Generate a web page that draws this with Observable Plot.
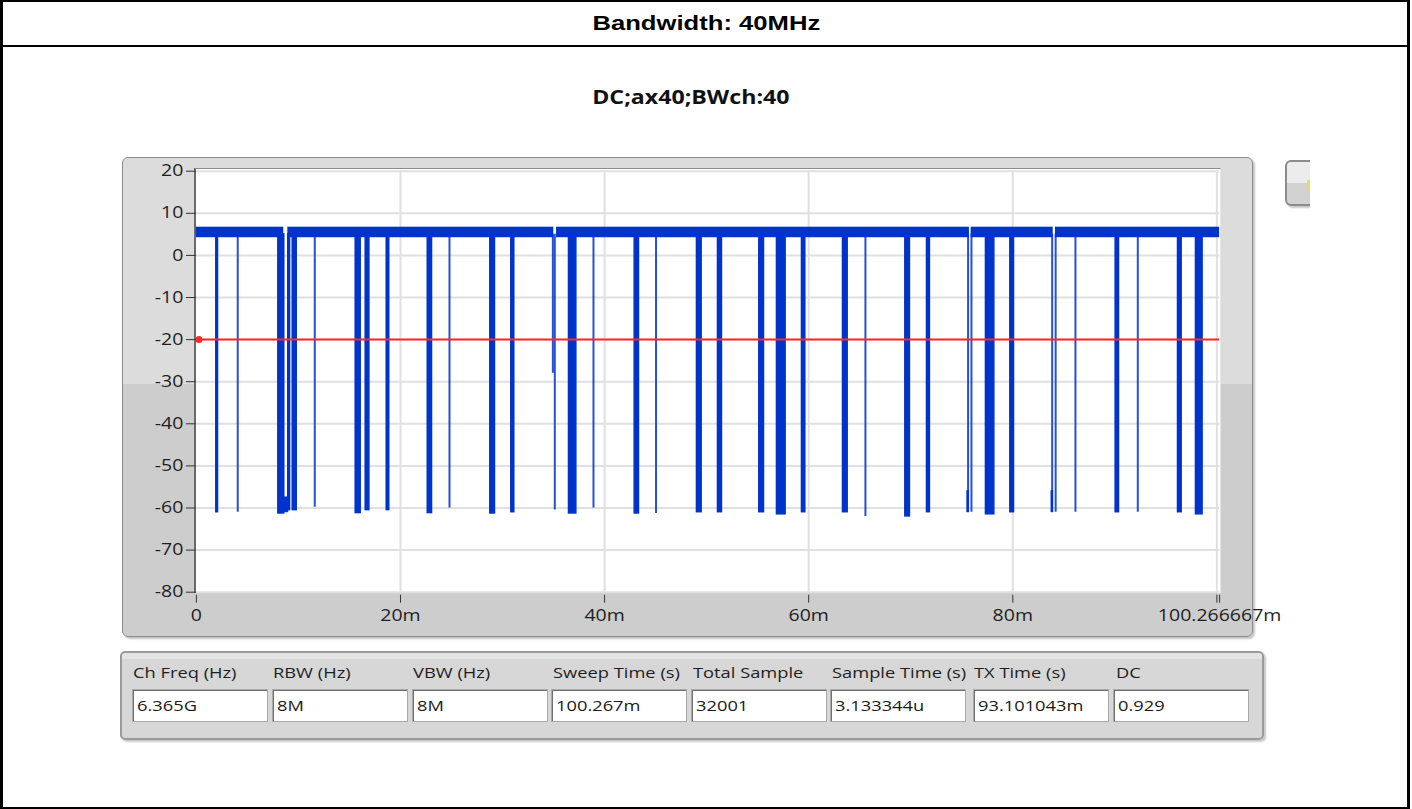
<!DOCTYPE html>
<html><head><meta charset="utf-8">
<script src="https://cdn.jsdelivr.net/npm/d3@7"></script>
<script src="https://cdn.jsdelivr.net/npm/@observablehq/plot@0.6"></script>
<style>
body{margin:0;background:#fff;}
#page{position:relative;width:1412px;height:809px;overflow:hidden;font-family:"Open Sans",sans-serif;background:#fff;}
.abs{position:absolute;}
.sx{display:inline-block;transform:scaleX(1.22);transform-origin:left center;white-space:nowrap;}
.sxc{display:inline-block;transform:scaleX(1.22);transform-origin:center center;white-space:nowrap;}
.lbl{position:absolute;top:660px;font-size:15px;color:#1e1e1e;line-height:24px;}
.box{position:absolute;top:689px;height:33px;width:136px;box-sizing:border-box;background:#fff;
  border:1px solid #a9a9a9;box-shadow:inset 1px 1px 0 #707070;font-size:15px;color:#1a1a1a;line-height:31px;padding-left:4px;}
</style></head><body>
<div id="page">
  <div class="abs" style="left:0;top:0;width:1410px;height:809px;box-sizing:border-box;border-left:3px solid #000;border-right:3px solid #000;border-top:2px solid #000;border-bottom:2px solid #000;"></div>
  <div class="abs" style="left:0;top:45px;width:1410px;height:2px;background:#000;"></div>
  <div class="abs" id="title" style="left:0;top:0;width:1412px;height:45px;line-height:45px;text-align:center;font-family:'Liberation Sans',Arial,sans-serif;font-weight:bold;font-size:21px;color:#000;"></div>
  <div class="abs" id="subtitle" style="left:0;top:85px;width:1382px;height:24px;line-height:24px;text-align:center;font-family:'Open Sans',sans-serif;font-weight:700;font-size:19px;color:#111;"></div>

  <!-- graph panel -->
  <div class="abs" style="left:122px;top:157px;width:1131px;height:480px;box-sizing:border-box;border:1.5px solid #8a8a8a;border-radius:6px;background:linear-gradient(#dcdcdc 0,#dcdcdc 226px,#cdcdcd 226px,#cdcdcd 100%);box-shadow:2px 2px 2px #c4c4c4;"></div>
  <div class="abs" style="left:194px;top:168px;width:1027px;height:425px;box-sizing:border-box;background:#fff;border-top:1px solid #8c8c8c;border-left:2px solid #6a6a6a;border-right:1px solid #e4e4e4;"></div>
  <div class="abs" id="chart" style="left:122px;top:157px;width:1131px;height:480px;"></div>

  <!-- button on the right -->
  <div class="abs" style="left:1280px;top:150px;width:30px;height:70px;overflow:hidden;">
    <div class="abs" style="left:5px;top:10px;width:44px;height:46px;box-sizing:border-box;border:2px solid #8c8c8c;border-radius:6px;background:linear-gradient(#ececec 0,#ececec 50%,#d2d2d2 50%,#d2d2d2 100%);box-shadow:2px 2px 2px #c8c8c8;"></div>
    <div class="abs" style="left:27px;top:30px;width:3px;height:12px;background:#e6dc6e;"></div>
  </div>

  <!-- table panel -->
  <div class="abs" style="left:120px;top:651px;width:1144px;height:89px;box-sizing:border-box;border:2px solid #9a9a9a;border-radius:5px;background:linear-gradient(#e4e4e4 0,#e4e4e4 6px,#d7d7d7 6px,#d7d7d7 100%);box-shadow:2px 2px 2px #c8c8c8;"></div>
  <div id="table"></div>
</div>
<script>
// ---------- data ----------
const titleText = "Bandwidth: 40MHz";
const subtitleText = "DC;ax40;BWch:40";

// y axis ticks (dB) and x axis ticks (ms)
const yTicks = [20, 10, 0, -10, -20, -30, -40, -50, -60, -70, -80];
const xTicks = [0, 20, 40, 60, 80, 100.266667];
const xTickLabels = ["0", "20m", "40m", "60m", "80m", "100.266667m"];
const xGrid = [20, 40, 60, 80, 100];
const xMinorTicks = [100];
const sweepEnd = 100.266667;

// signal "on" level (noise band, dB)
const bandStart = [0, 8.96, 35.29, 75.92, 84.18];
const bandEnd = [8.56, 35.02, 75.75, 83.96, 100.266667];
const bandLow = 4.2;
const bandHigh = 6.7;
const dropTop = 5;

// signal "off" gaps (ms) and their floor level (dB)
const dropStart = [1.95, 4.05, 8.03, 9.0, 9.44, 11.6, 15.61, 16.59, 18.65, 22.67,
  24.8, 28.8, 30.86, 34.93, 35.12, 36.51, 38.91, 42.95, 45.04, 49.05,
  51.11, 55.16, 56.89, 59.34, 63.36, 65.56, 69.47, 71.59, 75.62, 75.95,
  77.37, 79.76, 83.86, 84.2, 86.14, 90.08, 92.25, 96.19, 97.95];
const dropEnd = [2.12, 4.05, 8.61, 9.18, 9.83, 11.6, 16.10, 16.95, 18.9, 23.09,
  24.8, 29.26, 31.15, 34.93, 35.12, 37.23, 38.91, 43.37, 45.04, 49.51,
  51.5, 55.62, 57.74, 59.67, 63.82, 65.56, 69.92, 71.88, 75.62, 75.95,
  78.19, 80.12, 83.86, 84.2, 86.14, 90.41, 92.25, 96.55, 98.6];
const dropFloor = [-61, -61, -61.3, -60.5, -60.5, -59.8, -61.2, -60.5, -60.5, -61.2,
  -60, -61.3, -61, -28, -60.5, -61.3, -60, -61.3, -61.3, -61,
  -61, -61, -61.5, -61, -61, -62, -62, -61, -61, -61,
  -61.5, -61, -61, -61, -61, -61, -61, -61, -61.5];

// stretches where the signal stays low
const lowStart = [8.61, 75.55, 83.8];
const lowEnd = [9.0, 75.7, 83.95];
const lowTop = [-57.5, -56, -56];
const lowBottom = [-61, -61, -61];

const threshold = -20;

// parameter table
const tableLabels = ["Ch Freq (Hz)", "RBW (Hz)", "VBW (Hz)", "Sweep Time (s)", "Total Sample", "Sample Time (s)", "TX Time (s)", "DC"];
const tableValues = ["6.365G", "8M", "8M", "100.267m", "32001", "3.133344u", "93.101043m", "0.929"];

// ---------- layout ----------
const SX = 1.22;
const blue = "#0033cc";
const red = "#ff2828";

document.getElementById("title").innerHTML = `<span class="sxc">${titleText}</span>`;
document.getElementById("subtitle").innerHTML = `<span class="sxc">${subtitleText}</span>`;

const band = bandStart.map((s, i) => ({s, e: bandEnd[i]}));
const drops = dropStart.map((s, i) => ({s, e: dropEnd[i], f: dropFloor[i]}));
const wideDrops = drops.filter(d => d.e > d.s);
const thinDrops = drops.filter(d => d.e <= d.s);
const lows = lowStart.map((s, i) => ({s, e: lowEnd[i], t: lowTop[i], b: lowBottom[i]}));
const xLabel = new Map(xTicks.map((d, i) => [d, xTickLabels[i]]));

const svg = Plot.plot({
  width: 1131,
  height: 480,
  marginLeft: 73.9,
  marginRight: 33.9,
  marginTop: 13.7,
  marginBottom: 45.3,
  x: {domain: [0, sweepEnd]},
  y: {domain: [-80, 20]},
  style: {background: "transparent", fontFamily: "'Open Sans', sans-serif", fontSize: "16px", color: "#1e1e1e", overflow: "visible"},
  marks: [
    Plot.gridY(yTicks, {stroke: "#e0e0e0", strokeOpacity: 1, strokeWidth: 2}),
    Plot.gridX(xGrid, {stroke: "#e0e0e0", strokeOpacity: 1, strokeWidth: 2}),
    Plot.rect(band, {x1: "s", x2: "e", y1: bandLow, y2: bandHigh, fill: blue}),
    Plot.rect(wideDrops, {x1: "s", x2: "e", y1: "f", y2: dropTop, fill: blue, stroke: blue, strokeWidth: 1.5}),
    Plot.ruleX(thinDrops, {x: "s", y1: "f", y2: dropTop, stroke: blue, strokeWidth: 2, strokeOpacity: 0.85}),
    Plot.rect(lows, {x1: "s", x2: "e", y1: "b", y2: "t", fill: blue, stroke: blue, strokeWidth: 1}),
    Plot.ruleY([threshold], {stroke: red, strokeWidth: 2}),
    Plot.dot([{t: 0.25, v: threshold}], {x: "t", y: "v", r: 3.5, fill: red}),
    Plot.axisY(yTicks, {tickSize: 10, tickPadding: 3, tickFormat: d => String(d), stroke: "#333", fill: "#1e1e1e"}),
    Plot.axisX(xTicks, {tickSize: 8, tickPadding: 6, dy: 3, tickFormat: d => xLabel.get(d), stroke: "#333", fill: "#1e1e1e"}),
    Plot.axisX(xMinorTicks, {tickSize: 8, dy: 3, tickFormat: () => "", stroke: "#333"})
  ]
});

// horizontal stretch of the labels, as in the reference screenshot
svg.querySelectorAll("text").forEach(t => {
  let x = t.getAttribute("x"), y = t.getAttribute("y");
  let tx = 0, ty = 0;
  if (x !== null && !/em/.test(x)) { tx = +x || 0; t.removeAttribute("x"); }
  if (y !== null && !/em/.test(y)) { ty = +y || 0; t.removeAttribute("y"); }
  const tr = t.getAttribute("transform") || "";
  t.setAttribute("transform", `${tr} translate(${tx},${ty}) scale(${SX},1)`);
});
document.getElementById("chart").appendChild(svg);

// table
const labelLeft = [133, 273, 413, 553, 693, 832, 974, 1116];
const boxLeft = [132, 272, 412, 551, 691, 830, 973, 1113];
const tbl = document.getElementById("table");
tableLabels.forEach((l, i) => {
  const d = document.createElement("div");
  d.className = "lbl";
  d.style.left = labelLeft[i] + "px";
  d.innerHTML = `<span class="sx">${l}</span>`;
  tbl.appendChild(d);
  const b = document.createElement("div");
  b.className = "box";
  b.style.left = boxLeft[i] + "px";
  b.innerHTML = `<span class="sx">${tableValues[i]}</span>`;
  tbl.appendChild(b);
});
</script>
</body></html>
